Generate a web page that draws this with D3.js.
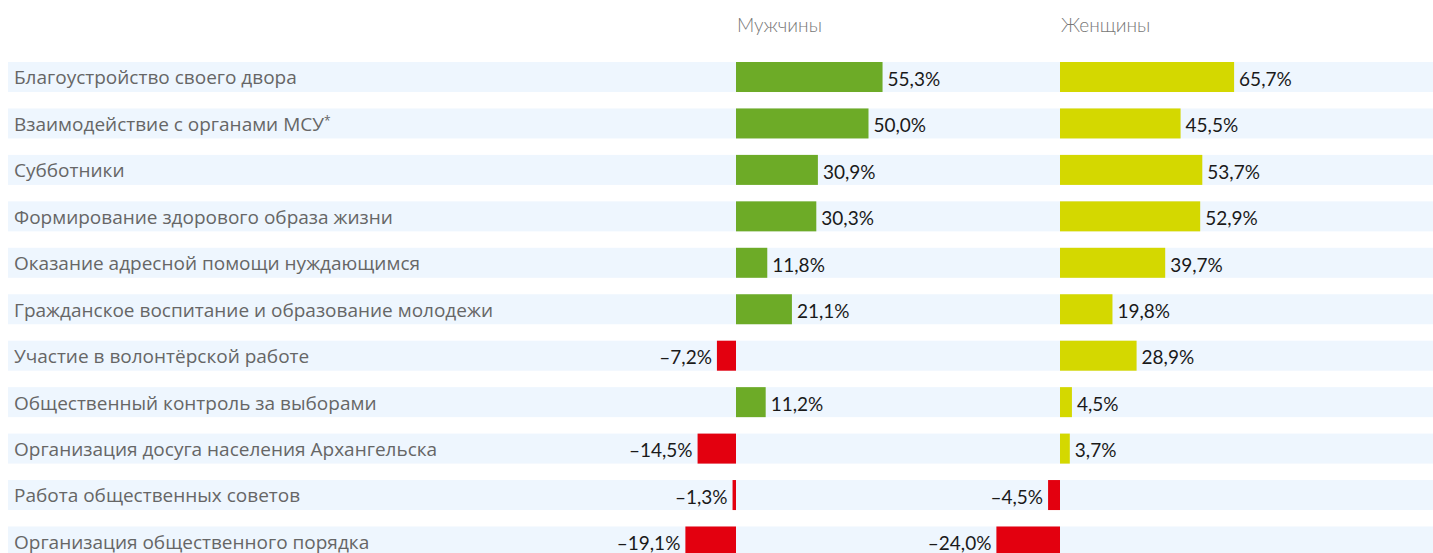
<!DOCTYPE html>
<html>
<head>
<meta charset="utf-8">
<script src="https://cdn.jsdelivr.net/npm/d3@7"></script>
<style>
  html, body { margin: 0; padding: 0; background: #fff; }
  svg { display: block; }
</style>
</head>
<body>
<svg id="chart" width="1433" height="553"></svg>
<script>
// Активности, в которых готовы участвовать жители (разница, %)
const categories = [
  "Благоустройство своего двора",
  "Взаимодействие с органами МСУ*",
  "Субботники",
  "Формирование здорового образа жизни",
  "Оказание адресной помощи нуждающимся",
  "Гражданское воспитание и образование молодежи",
  "Участие в волонтёрской работе",
  "Общественный контроль за выборами",
  "Организация досуга населения Архангельска",
  "Работа общественных советов",
  "Организация общественного порядка"
];
const groups = ["Мужчины", "Женщины"];
const menValues   = [55.3, 50.0, 30.9, 30.3, 11.8, 21.1, -7.2, 11.2, -14.5, -1.3, -19.1];
const womenValues = [65.7, 45.5, 53.7, 52.9, 39.7, 19.8, 28.9, 4.5, 3.7, -4.5, -24.0];

const W = 1433, H = 553;
const svg = d3.select("#chart");

const locale = d3.formatLocale({decimal: ",", thousands: "\u00a0", grouping: [3], currency: ["", ""], minus: "\u2013"});
const fmt = v => locale.format(".1f")(v) + "%";

// Row bands
const y = d3.scaleBand()
  .domain(categories)
  .range([62, 62 + 10 * 46.45 + 30])
  .paddingInner(0.354)
  .paddingOuter(0);

// Both panels share one value scale, shifted to their own zero line
const pxPerUnit = 2.65;
const xMen = d3.scaleLinear().domain([-30, 70]).range([736 - 30 * pxPerUnit, 736 + 70 * pxPerUnit]);
const xWomen = d3.scaleLinear().domain([-30, 70]).range([1060 - 30 * pxPerUnit, 1060 + 70 * pxPerUnit]);

const colors = {men: "#6dab27", women: "#d4d800", neg: "#e3000f"};

// Stripes
svg.append("g").selectAll("rect")
  .data(categories)
  .join("rect")
  .attr("x", 8)
  .attr("y", d => y(d))
  .attr("width", W - 8)
  .attr("height", y.bandwidth())
  .attr("fill", "#eef6fe");

// Category labels (a trailing asterisk is set as a small superscript)
svg.append("g").selectAll("text")
  .data(categories)
  .join("text")
  .attr("x", 14)
  .attr("y", d => y(d) + y.bandwidth() / 2)
  .attr("dy", "0.39em")
  .attr("font-family", "'Open Sans', sans-serif")
  .attr("font-size", 19)
  .attr("fill", "#666")
  .each(function(d) {
    const t = d3.select(this);
    const star = d.endsWith("*");
    t.append("tspan").text(star ? d.slice(0, -1) : d);
    if (star) {
      t.append("tspan")
        .attr("font-size", 12)
        .attr("dy", "-0.45em")
        .text("*");
    }
  });

// Panel headers
const headerX = [xMen(0), xWomen(0)];
svg.append("g").selectAll("text")
  .data(groups)
  .join("text")
  .attr("x", (d, i) => headerX[i] + 1)
  .attr("y", 32)
  .attr("font-family", "Lato, sans-serif")
  .attr("font-weight", 300)
  .attr("font-size", 19)
  .attr("fill", "#777")
  .text(d => d);

function panel(values, x, posColor) {
  const g = svg.append("g");
  const rows = categories.map((c, i) => ({c, v: values[i]}));
  g.selectAll("rect")
    .data(rows)
    .join("rect")
    .attr("x", d => x(Math.min(0, d.v)))
    .attr("y", d => y(d.c))
    .attr("width", d => Math.abs(x(d.v) - x(0)))
    .attr("height", y.bandwidth())
    .attr("fill", d => d.v < 0 ? colors.neg : posColor);
  g.selectAll("text")
    .data(rows)
    .join("text")
    .attr("x", d => d.v < 0 ? x(d.v) - 5 : x(d.v) + 5)
    .attr("y", d => y(d.c) + y.bandwidth() / 2)
    .attr("dy", "0.46em")
    .attr("text-anchor", d => d.v < 0 ? "end" : "start")
    .attr("font-family", "Lato, sans-serif")
    .attr("font-size", 19)
    .attr("fill", "#1a1a1a")
    .text(d => fmt(d.v));
}
panel(menValues, xMen, colors.men);
panel(womenValues, xWomen, colors.women);
</script>
</body>
</html>
